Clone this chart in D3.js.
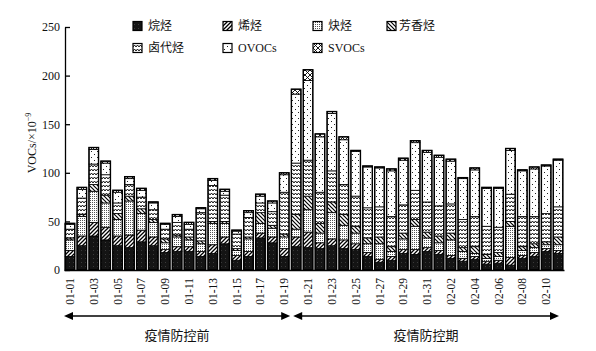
<!DOCTYPE html>
<html>
<head>
<meta charset="utf-8">
<script src="https://cdn.jsdelivr.net/npm/d3@7"></script>
<style>
  body { margin: 0; background: #fff; }
  svg { display: block; }
</style>
</head>
<body>
<div id="chart"></div>
<script>
// dates on the x axis
const dates = ["01-01","01-02","01-03","01-04","01-05","01-06","01-07","01-08","01-09","01-10",
  "01-11","01-12","01-13","01-14","01-15","01-16","01-17","01-18","01-19","01-20",
  "01-21","01-22","01-23","01-24","01-25","01-26","01-27","01-28","01-29","01-30",
  "01-31","02-01","02-02","02-03","02-04","02-05","02-06","02-07","02-08","02-09",
  "02-10","02-11"];

const seriesNames = ["烷烃", "烯烃", "炔烃", "芳香烃", "卤代烃", "OVOCs", "SVOCs"];

// values (x10^-9)
const alkane   = [14,25,35,31,25,23,29,25,18,19,19,14,17,27,10,14,33,28,14,24,23,22,25,22,21,14,8,10,17,16,19,16,12,9,11,6,7,5,12,14,19,17];
const alkene   = [6,10,14,13,10,13,12,9,3,5,5,5,9,7,5,5,5,6,8,10,16,6,7,9,6,4,3,4,4,5,4,4,3,3,3,3,3,8,3,4,3,3];
const alkyne   = [11,20,32,25,17,35,17,15,7,10,7,8,22,14,5,13,10,9,12,8,23,10,27,15,11,9,16,5,11,24,10,8,16,7,3,3,4,32,5,5,4,6];
const aromatic = [2,2,7,8,6,5,5,3,4,2,3,3,2,2,2,2,11,3,3,15,14,10,11,11,7,6,7,5,6,7,6,7,7,4,7,4,4,5,4,4,3,8];
const halo     = [9,17,21,21,11,12,12,10,10,13,8,29,37,27,15,20,10,14,43,53,37,32,32,31,31,31,31,31,29,30,31,31,30,29,31,29,26,28,31,28,29,31];
const ovocs    = [5,9,15,12,11,6,7,7,5,6,5,4,5,4,3,5,7,9,18,71,82,57,59,46,46,42,40,47,46,49,51,50,44,42,48,39,40,45,47,49,49,48];
const svocs    = [1,2,2,2,2,2,2,1,1,2,2,1,2,2,1,2,2,2,2,5,11,3,2,3,1,1,1,2,2,2,2,2,2,1,2,1,1,2,1,2,1,1];

const yTicks = [0, 50, 100, 150, 200, 250];
const periods = ["疫情防控前", "疫情防控期"];

const W = 596, H = 351;
const serif = "'Liberation Serif', 'Times New Roman', 'Noto Sans CJK SC', serif";

const svg = d3.select("#chart").append("svg")
  .attr("width", W).attr("height", H);

// fill patterns for the seven groups
const defs = svg.append("defs");
function pat(id, w, h, draw) {
  const p = defs.append("pattern").attr("id", id)
    .attr("patternUnits", "userSpaceOnUse").attr("width", w).attr("height", h);
  p.append("rect").attr("width", w).attr("height", h).attr("fill", "#fff");
  draw(p);
}
pat("p0", 4, 4, p => {
  p.select("rect").attr("fill", "#141414");
  p.append("rect").attr("x", 1).attr("y", 2).attr("width", 1).attr("height", 1).attr("fill", "#3a3a3a");
});
pat("p1", 4, 4, p => {
  p.append("path").attr("d", "M-1,1 L1,-1 M0,4 L4,0 M3,5 L5,3").attr("stroke", "#000").attr("stroke-width", 1.3);
});
pat("p2", 2, 2, p => {
  p.append("rect").attr("width", 1).attr("height", 1).attr("fill", "#555");
});
pat("p3", 4, 4, p => {
  p.append("path").attr("d", "M-1,3 L1,5 M0,0 L4,4 M3,-1 L5,1").attr("stroke", "#000").attr("stroke-width", 1.2);
});
pat("p4", 6, 4, p => {
  p.append("path").attr("d", "M0,3 L1.5,1 L3,3 L4.5,1 L6,3").attr("fill", "none").attr("stroke", "#000").attr("stroke-width", 0.9);
});
pat("p5", 6, 6, p => {
  p.append("rect").attr("x", 1).attr("y", 1).attr("width", 1).attr("height", 1).attr("fill", "#222");
  p.append("rect").attr("x", 4).attr("y", 4).attr("width", 1).attr("height", 1).attr("fill", "#222");
});
pat("p6", 5, 5, p => {
  p.append("path").attr("d", "M0,0 L5,5 M5,0 L0,5").attr("stroke", "#000").attr("stroke-width", 0.9);
});

const fills = ["url(#p0)", "url(#p1)", "url(#p2)", "url(#p3)", "url(#p4)", "url(#p5)", "url(#p6)"];

// table for the stack
const rows = dates.map((d, i) => ({
  date: d,
  "烷烃": alkane[i], "烯烃": alkene[i], "炔烃": alkyne[i], "芳香烃": aromatic[i],
  "卤代烃": halo[i], "OVOCs": ovocs[i], "SVOCs": svocs[i]
}));
const stacked = d3.stack().keys(seriesNames)(rows);

const x = d3.scaleBand().domain(dates).range([64, 564]).paddingInner(0.2).paddingOuter(0.1);
const y = d3.scaleLinear().domain([0, 250]).range([270, 27]);

// bars
svg.append("g").selectAll("g")
  .data(stacked)
  .enter().append("g")
  .attr("fill", (d, i) => fills[i])
  .selectAll("rect")
  .data(d => d)
  .enter().append("rect")
  .attr("x", d => x(d.data.date))
  .attr("y", d => y(d[1]))
  .attr("width", x.bandwidth())
  .attr("height", d => y(d[0]) - y(d[1]))
  .attr("stroke", "#000")
  .attr("stroke-width", 0.8);

// bar outline
svg.append("g").selectAll("rect")
  .data(rows)
  .enter().append("rect")
  .attr("x", d => x(d.date))
  .attr("y", d => y(d3.sum(seriesNames, k => d[k])))
  .attr("width", x.bandwidth())
  .attr("height", d => 270 - y(d3.sum(seriesNames, k => d[k])))
  .attr("fill", "none")
  .attr("stroke", "#000")
  .attr("stroke-width", 1.4);

// y axis
const yAxis = svg.append("g")
  .attr("transform", "translate(65,0)")
  .call(d3.axisLeft(y).tickValues(yTicks).tickSizeInner(-5).tickSizeOuter(0).tickPadding(5));
yAxis.select(".domain").attr("stroke-width", 1.3);
yAxis.selectAll(".tick line").attr("stroke-width", 1.3);
yAxis.selectAll("text").attr("font-family", serif).attr("font-size", 12).attr("fill", "#111");

// x axis
const xAxis = svg.append("g")
  .attr("transform", "translate(0,270)")
  .call(d3.axisBottom(x).tickValues(dates.filter((d, i) => i % 2 === 0)).tickSize(0).tickSizeOuter(0));
xAxis.select(".domain").attr("stroke-width", 1.3);
xAxis.selectAll("text")
  .attr("font-family", serif).attr("font-size", 11.5).attr("fill", "#111")
  .attr("transform", "rotate(-90)")
  .attr("text-anchor", "end")
  .attr("x", -8).attr("y", 0).attr("dy", "0.35em");

// y title
svg.append("text")
  .attr("transform", "translate(36,143) rotate(-90)")
  .attr("text-anchor", "middle")
  .attr("font-family", serif).attr("font-size", 12).attr("fill", "#111")
  .text("VOCs/×10")
  .append("tspan").attr("dy", -5).attr("font-size", 8).text("−9");

// period arrows
const ay = 316;
const split = x("01-19") + x.bandwidth() + x.step() * x.paddingInner() / 2 + 1;
const arrows = [[64, split - 1], [split + 2, 559]];
arrows.forEach(([a, b], i) => {
  svg.append("line").attr("x1", a + 4).attr("x2", b - 4).attr("y1", ay).attr("y2", ay)
    .attr("stroke", "#000").attr("stroke-width", 1.4);
  svg.append("path").attr("d", `M${a},${ay} L${a + 9},${ay - 4} L${a + 9},${ay + 4} Z`).attr("fill", "#000");
  svg.append("path").attr("d", `M${b},${ay} L${b - 9},${ay - 4} L${b - 9},${ay + 4} Z`).attr("fill", "#000");
  svg.append("text")
    .attr("x", (a + b) / 2).attr("y", 340)
    .attr("text-anchor", "middle")
    .attr("font-family", "'Noto Sans CJK SC', sans-serif").attr("font-size", 13).attr("fill", "#111")
    .text(periods[i]);
});

// legend
const legendPos = [[133, 26], [223, 26], [313, 26], [387, 26], [133, 48], [223, 48], [313, 48]];
const legend = svg.append("g").selectAll("g")
  .data(seriesNames)
  .enter().append("g")
  .attr("transform", (d, i) => `translate(${legendPos[i][0]},${legendPos[i][1]})`);
legend.append("rect")
  .attr("x", 0).attr("y", -4.5).attr("width", 9).attr("height", 9)
  .attr("fill", (d, i) => fills[i])
  .attr("stroke", "#000").attr("stroke-width", 1.2);
legend.append("text")
  .attr("x", (d, i) => i === 3 ? 12 : 15).attr("y", 0).attr("dy", "0.35em")
  .attr("font-family", serif).attr("font-size", 12).attr("fill", "#111")
  .text(d => d);
</script>
</body>
</html>
